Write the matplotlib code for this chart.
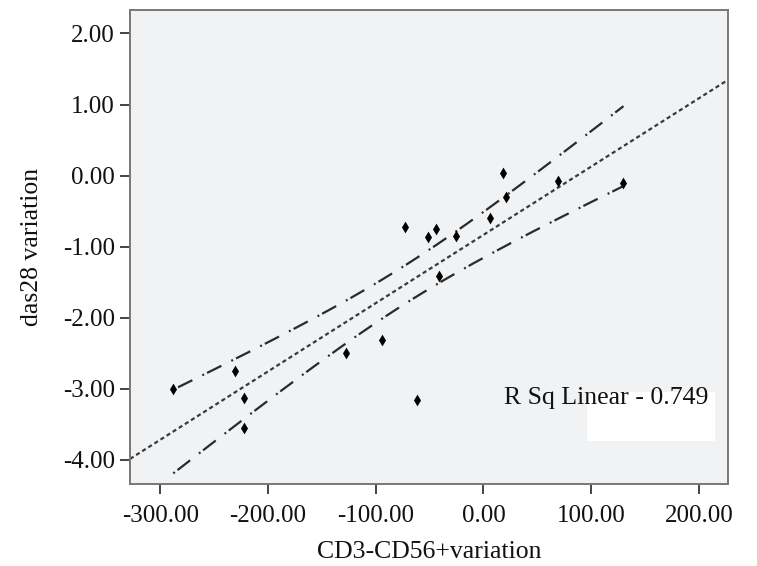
import numpy as np
import matplotlib
matplotlib.use("Agg")
import matplotlib.pyplot as plt
from matplotlib.patches import Rectangle

# Data
cd3_cd56_variation = [-287.8, -230.5, -222.2, -222.2, -127.8, -94.1, -61.8, -72.7,
                      -51.1, -44.2, -25.3, -40.9, 5.9, 18.6, 21.4, 69.6, 130.0]
das28_variation = [-3.01, -2.75, -3.13, -3.55, -2.49, -2.32, -3.16, -0.73,
                   -0.87, -0.75, -0.85, -1.42, -0.60, 0.04, -0.30, -0.07, -0.10]
x_ticks = [-300, -200, -100, 0, 100, 200]
y_ticks = [-4, -3, -2, -1, 0, 1, 2]
r_sq_label = "R Sq Linear - 0.749"

plt.rcParams['font.family'] = ['Liberation Serif', 'DejaVu Serif']
plt.rcParams['lines.scale_dashes'] = False

x = np.array(cd3_cd56_variation)
y = np.array(das28_variation)
n = len(x)
slope, intercept = np.polyfit(x, y, 1)
resid = y - (slope * x + intercept)
s = np.sqrt(np.sum(resid ** 2) / (n - 2))
sxx = np.sum((x - x.mean()) ** 2)
t_val = 1.70

fig = plt.figure(figsize=(7.57, 5.66), dpi=100)
ax = fig.add_axes([130 / 757, 1 - 484 / 566, 598 / 757, 474 / 566])
ax.set_facecolor('#f1f2f4')

xlim = (-328, 227)
ylim = (-4.34, 2.33)
ax.set_xlim(*xlim)
ax.set_ylim(*ylim)

# Fit line across the full axis
xf = np.linspace(xlim[0], xlim[1], 200)
ax.plot(xf, slope * xf + intercept, color='#3a3a3a', lw=1.6,
        dashes=(3.0, 2.2), zorder=2)

# Mean confidence bands across the data range
xb = np.linspace(x.min(), x.max(), 200)
yb = slope * xb + intercept
se = s * np.sqrt(1 / n + (xb - x.mean()) ** 2 / sxx)
band_dash = (1.4, 2.4, 11.5, 8.0)
ax.plot(xb, yb + t_val * se, color='#2a2a2a', lw=1.6, dashes=band_dash, zorder=2)
ax.plot(xb, yb - t_val * se, color='#2a2a2a', lw=1.6, dashes=band_dash, zorder=2)

ax.scatter(x, y, marker='d', s=36, color='black', zorder=3, linewidths=0)

# R-squared label with white box
ax.add_patch(Rectangle((96, -3.74), 119, 0.69, facecolor='white',
                       edgecolor='none', zorder=3))
ax.text(19.5, -3.22, r_sq_label, fontsize=18.5, color='#111111',
        ha='left', va='baseline', zorder=4)

ax.set_xticks(x_ticks)
ax.set_xticklabels([f"{v:.2f}" for v in x_ticks])
ax.set_yticks(y_ticks)
ax.set_yticklabels([f"{v:.2f}" for v in y_ticks])
ax.tick_params(direction='out', length=7, width=1.4, color='#444444',
               labelsize=18, labelcolor='#111111')
ax.tick_params(axis='x', pad=8)
ax.tick_params(axis='y', pad=4)
for sp in ax.spines.values():
    sp.set_color('#777777')
    sp.set_linewidth(1.4)

ax.set_xlabel("CD3-CD56+variation", fontsize=18.5, color='#111111', labelpad=10)
ax.set_ylabel("das28 variation", fontsize=18.5, color='#111111', labelpad=14)

fig.savefig("out.png", dpi=100, facecolor='white')
